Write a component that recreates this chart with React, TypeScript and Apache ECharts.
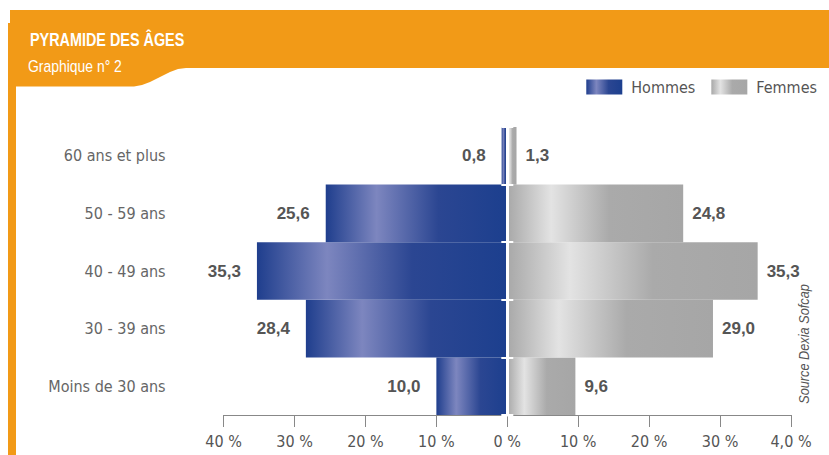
import React, { useEffect, useRef } from "react";
import * as echarts from "echarts";

const categories = ["Moins de 30 ans", "30 - 39 ans", "40 - 49 ans", "50 - 59 ans", "60 ans et plus"];
const hommes = [10.0, 28.4, 35.3, 25.6, 0.8];
const femmes = [9.6, 29.0, 35.3, 24.8, 1.3];
const tickLabels = ["40 %", "30 %", "20 %", "10 %", "0 %", "10 %", "20 %", "30 %", "4,0 %"];
const title = "PYRAMIDE DES ÂGES";
const subtitle = "Graphique n° 2";
const source = "Source Dexia Sofcap";

const NARROW = "DejaVu Sans Condensed, Liberation Sans, sans-serif";
const SANS = "Liberation Sans, Arial, sans-serif";
const ORANGE = "#F29A17";

const fmt = (v: number) => Math.abs(v).toFixed(1).replace(".", ",");

export default function App() {
  const ref = useRef<HTMLDivElement>(null);
  useEffect(() => {
    document.body.style.margin = "0";
    const chart = echarts.init(ref.current!, null, { renderer: "svg" });
    const blue = new echarts.graphic.LinearGradient(0, 0, 1, 0, [
      { offset: 0, color: "#1f3e8d" },
      { offset: 0.28, color: "#7d86bf" },
      { offset: 0.62, color: "#2b4692" },
      { offset: 1, color: "#1c3f8e" },
    ]);
    const grey = new echarts.graphic.LinearGradient(0, 0, 1, 0, [
      { offset: 0, color: "#a8a8a8" },
      { offset: 0.25, color: "#e3e3e3" },
      { offset: 0.58, color: "#aaaaaa" },
      { offset: 1, color: "#a6a6a6" },
    ]);
    const option: any = {
      animation: false,
      backgroundColor: "#ffffff",
      legend: {
        right: 12,
        top: 79,
        padding: 0,
        itemWidth: 36,
        itemHeight: 15,
        itemGap: 16,
        icon: "rect",
        textStyle: { fontFamily: NARROW, fontSize: 16, color: "#555", padding: [0, 0, 0, 4] },
        data: ["Hommes", "Femmes"],
      },
      grid: { left: 223.6, right: 38, top: 127, bottom: 40 },
      xAxis: {
        type: "value",
        min: -40,
        max: 40,
        interval: 10,
        axisLine: { show: true, lineStyle: { color: "#888", width: 1 } },
        axisTick: { show: true, length: 12, lineStyle: { color: "#888" } },
        splitLine: { show: false },
        axisLabel: {
          margin: 18,
          fontFamily: NARROW,
          fontSize: 16,
          color: "#555",
          formatter: (v: number) => tickLabels[Math.round((v + 40) / 10)] ?? "",
        },
      },
      yAxis: [
        {
          type: "category",
          data: categories,
          axisLine: { show: false, onZero: false },
          axisTick: { show: false },
          axisLabel: { margin: 58, fontFamily: NARROW, fontSize: 16, color: "#666" },
        },
        {
          type: "category",
          data: categories,
          z: 10,
          axisLine: { show: true, onZero: true, onZeroAxisIndex: 0, lineStyle: { color: "#fff", width: 3 } },
          axisTick: { show: true, inside: false, length: 6, lineStyle: { color: "#fff", width: 2 } },
          axisLabel: { show: false },
        },
        {
          type: "category",
          data: categories,
          z: 10,
          axisLine: { show: false, onZero: true, onZeroAxisIndex: 0 },
          axisTick: { show: true, inside: true, length: 6, lineStyle: { color: "#fff", width: 2 } },
          axisLabel: { show: false },
        },
      ],
      series: [
        {
          name: "Hommes",
          type: "bar",
          yAxisIndex: 0,
          data: hommes.map((v) => -v),
          barGap: "-100%",
          barCategoryGap: "0%",
          itemStyle: { color: blue },
          label: {
            show: true,
            position: "left",
            distance: 16,
            formatter: (p: any) => fmt(p.value),
            fontFamily: SANS,
            fontWeight: "bold",
            fontSize: 17,
            color: "#555",
          },
        },
        {
          name: "Femmes",
          type: "bar",
          yAxisIndex: 0,
          data: femmes,
          barGap: "-100%",
          barCategoryGap: "0%",
          itemStyle: { color: grey },
          label: {
            show: true,
            position: "right",
            distance: 9,
            formatter: (p: any) => fmt(p.value),
            fontFamily: SANS,
            fontWeight: "bold",
            fontSize: 17,
            color: "#555",
          },
        },
      ],
      graphic: [
        {
          type: "polygon",
          z: -1,
          shape: {
            points: [
              [10, 10], [829, 10], [829, 68], [186, 68], [178, 69], [170, 72], [160, 77],
              [150, 82], [142, 85], [134, 86.5], [10, 86.5],
            ],
          },
          style: { fill: ORANGE },
        },
        { type: "rect", z: -1, shape: { x: 8, y: 23, width: 8, height: 432 }, style: { fill: ORANGE } },
        {
          type: "text",
          x: 30,
          y: 39,
          scaleX: 0.8,
          style: {
            text: title,
            fill: "#fff",
            font: `bold 18px ${SANS}`,
            textVerticalAlign: "middle",
          },
        },
        {
          type: "text",
          x: 28,
          y: 66,
          scaleX: 0.82,
          style: {
            text: subtitle,
            fill: "#fff",
            font: `17px ${SANS}`,
            textVerticalAlign: "middle",
          },
        },
        {
          type: "text",
          x: 804,
          y: 344,
          rotation: Math.PI / 2,
          scaleX: 0.85,
          style: {
            text: source,
            fill: "#555",
            font: `italic 15px ${SANS}`,
            textAlign: "center",
            textVerticalAlign: "middle",
          },
        },
      ],
    };
    chart.setOption(option);
    return () => chart.dispose();
  }, []);
  return <div ref={ref} style={{ width: 829, height: 455 }} />;
}
